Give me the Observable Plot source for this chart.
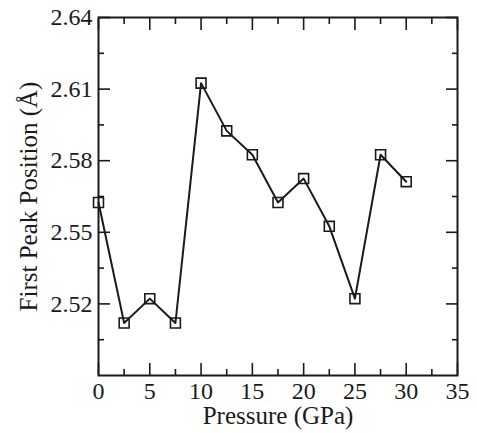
<!DOCTYPE html>
<html>
<head>
<meta charset="utf-8">
<script src="https://cdn.jsdelivr.net/npm/d3@7"></script>
<script src="https://cdn.jsdelivr.net/npm/@observablehq/plot@0.6"></script>
<style>
  html, body { margin: 0; padding: 0; background: #fff; }
</style>
</head>
<body>
<div id="chart"></div>
<script>
const pressure = [0, 2.5, 5, 7.5, 10, 12.5, 15, 17.5, 20, 22.5, 25, 27.5, 30];
const peakPosition = [2.5625, 2.512, 2.5222, 2.512, 2.6125, 2.5925, 2.5825, 2.5625, 2.5725, 2.5525, 2.5222, 2.5825, 2.5712];
const xMajorTicks = [0, 5, 10, 15, 20, 25, 30, 35];
const xMinorTicks = [2.5, 7.5, 12.5, 17.5, 22.5, 27.5, 32.5];
const yMajorTicks = [2.52, 2.55, 2.58, 2.61, 2.64];
const yMinorTicks = [2.505, 2.535, 2.565, 2.595, 2.625];
const xTitle = ["Pressure (GPa)"];
const yTitle = ["First Peak Position (Å)"];

const data = pressure.map((p, i) => ({p, v: peakPosition[i]}));
const ink = "#1a1a1a";

const chart = Plot.plot({
  width: 477,
  height: 433,
  marginLeft: 98,
  marginRight: 20,
  marginTop: 17,
  marginBottom: 58,
  style: {fontFamily: "'Liberation Serif', 'Times New Roman', serif", fontSize: "24px", color: ink, background: "#fff"},
  x: {domain: [0, 35]},
  y: {domain: [2.49, 2.64]},
  marks: [
    // tick labels
    Plot.axisX({ticks: xMajorTicks, tickSize: 0, tickPadding: 6, label: null, tickFormat: d => String(d)}),
    Plot.axisY({ticks: yMajorTicks, tickSize: 0, tickPadding: 6, label: null, tickFormat: d => d.toFixed(2)}),
    // inward major ticks on all sides
    Plot.axisX({anchor: "bottom", ticks: xMajorTicks, tickSize: -12, text: null, label: null, strokeWidth: 1.6}),
    Plot.axisX({anchor: "top", ticks: xMajorTicks, tickSize: -12, text: null, label: null, strokeWidth: 1.6}),
    Plot.axisY({anchor: "left", ticks: yMajorTicks, tickSize: -12, text: null, label: null, strokeWidth: 1.6}),
    Plot.axisY({anchor: "right", ticks: yMajorTicks, tickSize: -12, text: null, label: null, strokeWidth: 1.6}),
    // inward minor ticks on all sides
    Plot.axisX({anchor: "bottom", ticks: xMinorTicks, tickSize: -6, text: null, label: null, strokeWidth: 1.6}),
    Plot.axisX({anchor: "top", ticks: xMinorTicks, tickSize: -6, text: null, label: null, strokeWidth: 1.6}),
    Plot.axisY({anchor: "left", ticks: yMinorTicks, tickSize: -6, text: null, label: null, strokeWidth: 1.6}),
    Plot.axisY({anchor: "right", ticks: yMinorTicks, tickSize: -6, text: null, label: null, strokeWidth: 1.6}),
    Plot.frame({stroke: ink, strokeWidth: 2}),
    Plot.line(data, {x: "p", y: "v", stroke: ink, strokeWidth: 2}),
    Plot.dot(data, {x: "p", y: "v", symbol: "square", r: 5.6, fill: "none", stroke: ink, strokeWidth: 1.6}),
    // axis titles
    Plot.text(xTitle, {frameAnchor: "bottom", textAnchor: "middle", lineAnchor: "bottom", dy: 48, fontSize: 25, fill: ink}),
    Plot.text(yTitle, {frameAnchor: "left", textAnchor: "middle", lineAnchor: "bottom", rotate: -90, dx: -62, fontSize: 25, fill: ink})
  ]
});
document.getElementById("chart").appendChild(chart);
</script>
</body>
</html>
